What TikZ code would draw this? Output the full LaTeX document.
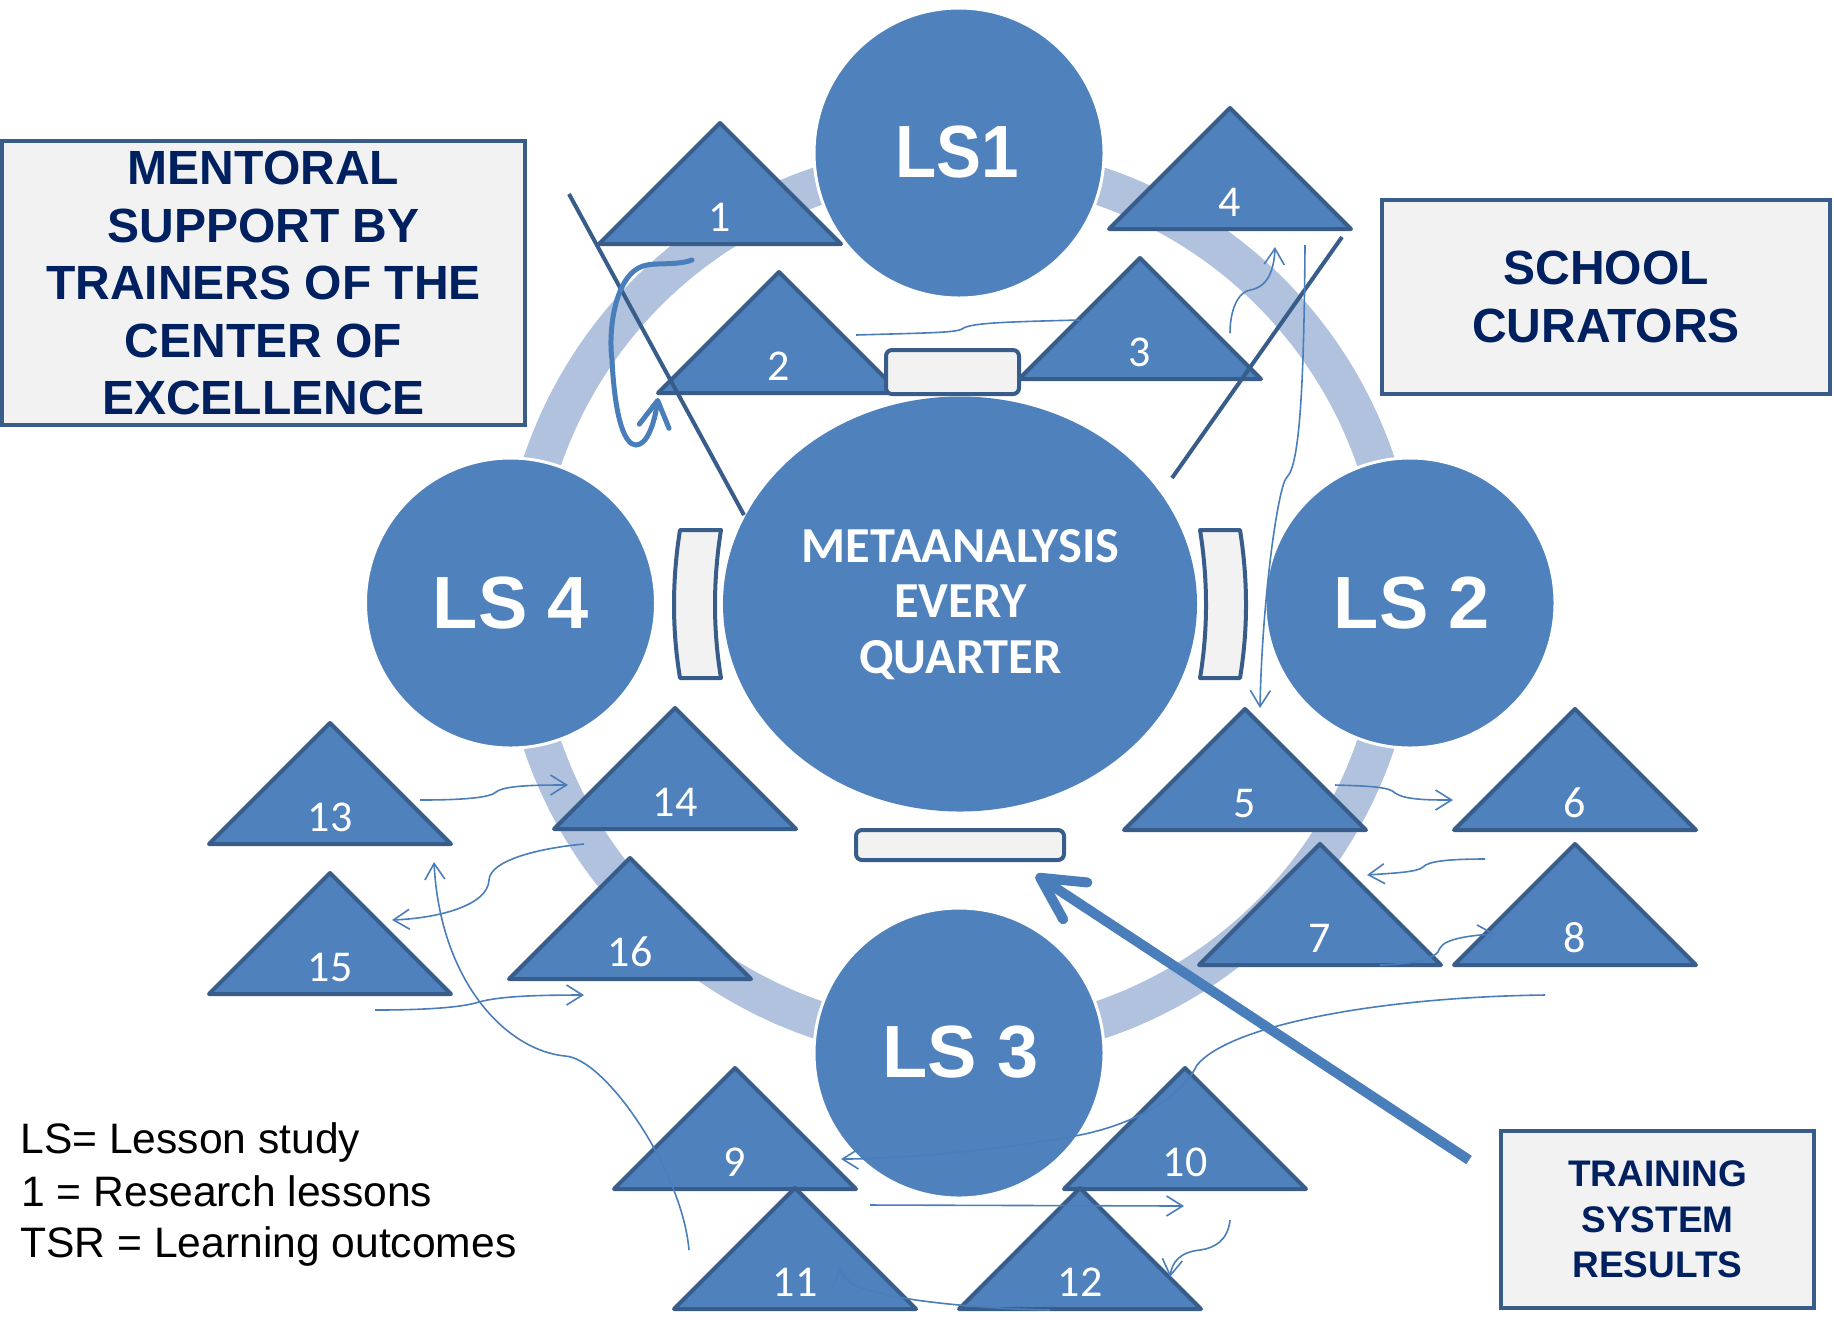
\documentclass[tikz,border=0pt]{standalone}
\usepackage{fontspec}
\usepackage{graphicx}
\setmainfont{Liberation Sans}
\newfontfamily\calibfont{Carlito}
\usetikzlibrary{arrows.meta,shapes.geometric}
\definecolor{fillblue}{HTML}{4F81BD}
\definecolor{edgeblue}{HTML}{385D8A}
\definecolor{ringblue}{RGB}{176,194,222}
\definecolor{navy}{HTML}{002060}
\definecolor{boxgray}{HTML}{F2F2F2}
\definecolor{arrowblue}{HTML}{4A7EBB}
\newcommand\mytri[4]{%
  \draw[tri] (#2,#3) -- ++(121,121) -- ++(-242,0) -- cycle;
  \node[trilabel] (#1) at ({#2},{#3+108}) {#4};}
\begin{document}
\begin{tikzpicture}[x=0.5pt,y=-0.5pt,
  tri/.style={draw=edgeblue, fill=fillblue, line width=2pt, line join=round},
  trilabel/.style={text=white, font=\calibfont\fontsize{22}{26}\selectfont, anchor=base, inner sep=0pt},
  lsc/.style={circle, fill=fillblue, draw=white, line width=1.5pt, minimum size=145pt, inner sep=0pt},
  lslabel/.style={text=white, font=\bfseries\fontsize{37}{40}\selectfont, anchor=base, inner sep=0pt},
  metalabel/.style={text=white, font=\calibfont\bfseries\fontsize{25.2}{28}\selectfont, anchor=base, inner sep=0pt},
  box/.style={draw=edgeblue, fill=boxgray, line width=2pt, text=navy, font=\bfseries\fontsize{24}{28.75}\selectfont, align=center, inner sep=0pt},
  bar/.style={draw=edgeblue, fill=boxgray, line width=2pt, rounded corners=3pt, inner sep=0pt},
  curvedbar/.style={draw=edgeblue, fill=boxgray, line width=2pt, line join=round},
  longline/.style={draw=edgeblue, line width=2pt},
  thin/.style={draw=arrowblue, line width=0.8pt},
  barbarrow/.style={-{Straight Barb[length=8pt,width=10pt]}},
  legend/.style={anchor=base west, inner sep=0pt, font=\fontsize{21.3}{26}\selectfont}]
\useasboundingbox (0,0) rectangle (1834,1319);

% ring
\draw[ringblue, line width=19pt] (959,603) circle [radius=220pt];

% circles
\node[lsc] (ls1) at (959,153) {};
\node[lsc] (ls2) at (1410,603) {};
\node[lsc] (ls3) at (959,1053) {};
\node[lsc] (ls4) at (510.5,603) {};
\node[lslabel] (ls1t) at (957.5,177) {\scalebox{0.91}[1]{LS1}};
\node[lslabel] (ls2t) at (1412,628) {LS 2};
\node[lslabel] (ls3t) at (960.5,1077) {LS 3};
\node[lslabel] (ls4t) at (511,628) {LS 4};

% central ellipse
\node[ellipse, fill=fillblue, minimum width=237pt, minimum height=207.5pt, inner sep=0pt] (meta) at (960,604) {};
\node[metalabel] (meta1) at (960.5,562) {METAANALYSIS};
\node[metalabel] (meta2) at (960.5,617) {EVERY};
\node[metalabel] (meta3) at (960.5,673) {QUARTER};

% triangles
\mytri{t1}{720}{123}{1}
\mytri{t2}{779}{272}{2}
\mytri{t3}{1140}{258}{3}
\mytri{t4}{1230}{108}{4}
\mytri{t5}{1245}{709}{5}
\mytri{t6}{1575}{709}{6}
\mytri{t7}{1320}{844}{7}
\mytri{t8}{1575}{844}{8}
\mytri{t9}{735}{1068}{9}
\mytri{t10}{1185}{1068}{10}
\mytri{t11}{795}{1188}{11}
\mytri{t12}{1080}{1188}{12}
\mytri{t13}{330}{723}{13}
\mytri{t14}{675}{708}{14}
\mytri{t15}{330}{873}{15}
\mytri{t16}{630}{858}{16}

% small bars
\node[bar, minimum width=66.5pt, minimum height=22pt] (bartop) at (952.5,372) {};
\node[bar, minimum width=104pt, minimum height=15pt] (barbot) at (960,845) {};
\draw[curvedbar] (680,530) -- (721,530) .. controls (713,580) and (713,630) .. (721,678)
  -- (680,678) .. controls (672,630) and (672,580) .. cycle;
\draw[curvedbar] (1200,530) -- (1240,530) .. controls (1248,580) and (1248,630) .. (1240,678)
  -- (1200,678) .. controls (1208,630) and (1208,580) .. cycle;

% boxes
\node[box, minimum width=261.5pt, minimum height=142pt] (mentor) at (263.5,283)
  {MENTORAL\\SUPPORT BY\\TRAINERS OF THE\\CENTER OF\\EXCELLENCE};
\node[box, minimum width=224pt, minimum height=97pt] (school) at (1606,297)
  {SCHOOL\\CURATORS};
\node[box, font=\bfseries\fontsize{18.5}{22.75}\selectfont, minimum width=156.5pt, minimum height=88.5pt] (tsr) at (1657.5,1219.5)
  {TRAINING\\SYSTEM\\RESULTS};

% legend
\node[legend] (leg1) at (20,1153) {LS= Lesson study};
\node[legend] (leg2) at (21,1206) {1 = Research lessons};
\node[legend] (leg3) at (20,1257) {TSR = Learning outcomes};

% long straight lines
\coordinate (la1) at (569,194);
\coordinate (la2) at (744,515);
\coordinate (lb1) at (1342,237);
\coordinate (lb2) at (1172,478);
\draw[longline] (la1) -- (la2);
\draw[longline] (lb1) -- (lb2);

% connector coordinates
\coordinate (a1) at (692,260);  \coordinate (a2) at (658,398);
\coordinate (b1) at (856,335);  \coordinate (b2) at (1080,320);
\coordinate (c1) at (1230,333); \coordinate (c2) at (1275,247);
\coordinate (d1) at (1305,245); \coordinate (d2) at (1260,708);
\coordinate (e1) at (1335,785); \coordinate (e2) at (1453,800);
\coordinate (f1) at (1485,859); \coordinate (f2) at (1367,875);
\coordinate (g1) at (1380,965); \coordinate (g2) at (1495,934);
\coordinate (h1) at (1545,995); \coordinate (h2) at (841,1159);
\coordinate (i1) at (870,1205); \coordinate (i2) at (1184,1206);
\coordinate (j1) at (1230,1220); \coordinate (j2) at (1170,1277);
\coordinate (k1) at (1050,1310); \coordinate (k2) at (840,1268);
\coordinate (l1) at (689,1250); \coordinate (l2) at (434,862);
\coordinate (m1) at (420,800);  \coordinate (m2) at (568,785);
\coordinate (n1) at (584,844);  \coordinate (n2) at (392,920);
\coordinate (o1) at (375,1010); \coordinate (o2) at (584,995);
\coordinate (thtail) at (1469,1160); \coordinate (thtip) at (1036,875);

% thin connectors
\draw[thin] (b1) .. controls (920,333) and (955,333) .. (962,329) .. controls (970,323) and (1000,322) .. (b2);
\draw[thin, barbarrow] (c1) .. controls (1230,310) and (1238,292) .. (1250,290) .. controls (1268,287) and (1274,270) .. (c2);
\draw[thin, barbarrow] (d1) .. controls (1304,380) and (1300,465) .. (1287,477) .. controls (1278,485) and (1262,600) .. (d2);
\draw[thin, barbarrow] (e1) .. controls (1370,786) and (1390,787) .. (1395,793) .. controls (1405,800) and (1430,800) .. (e2);
\draw[thin, barbarrow] (f1) .. controls (1450,859) and (1428,861) .. (1423,867) .. controls (1418,872) and (1395,873) .. (f2);
\draw[thin, barbarrow] (g1) .. controls (1410,964) and (1437,960) .. (1440,948) .. controls (1445,938) and (1475,935) .. (g2);
\draw[thin, barbarrow] (h1) .. controls (1380,997) and (1230,1025) .. (1197,1065) .. controls (1180,1100) and (1130,1125) .. (1080,1135) .. controls (1000,1150) and (900,1159) .. (h2);
\draw[thin, barbarrow] (i1) -- (i2);
\draw[thin, barbarrow] (j1) .. controls (1228,1240) and (1215,1248) .. (1200,1250) .. controls (1180,1252) and (1172,1262) .. (j2);
\draw[thin, barbarrow] (k1) .. controls (960,1308) and (880,1298) .. (855,1285) .. controls (845,1280) and (841,1275) .. (k2);
\draw[thin, barbarrow] (l1) .. controls (682,1170) and (605,1058) .. (565,1056) .. controls (505,1050) and (440,980) .. (l2);
\draw[thin, barbarrow] (m1) .. controls (460,800) and (490,798) .. (496,792) .. controls (505,785) and (540,785) .. (m2);
\draw[thin, barbarrow] (n1) .. controls (540,848) and (490,860) .. (489,880) .. controls (488,905) and (440,918) .. (n2);
\draw[thin, barbarrow] (o1) .. controls (420,1010) and (460,1008) .. (479,1002) .. controls (500,996) and (540,995) .. (o2);

% thick curl
\draw[arrowblue, line width=2.5pt, line cap=round, -{Straight Barb[length=13pt,width=15pt,round]}]
  (a1) .. controls (675,266) and (655,262) .. (643,266) .. controls (615,275) and (608,330) .. (612,360)
  .. controls (615,420) and (625,445) .. (636,445) .. controls (648,445) and (655,420) .. (a2);

% thick arrow
\draw[arrowblue, line width=5pt, -{Straight Barb[length=21pt,width=22pt,round]}] (thtail) -- (thtip);
\end{tikzpicture}
\end{document}
